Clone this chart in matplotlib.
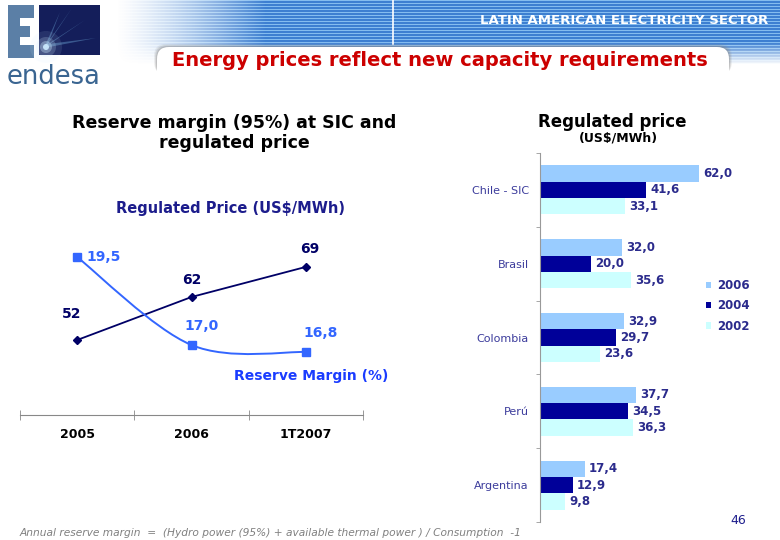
import numpy as np
import matplotlib.pyplot as plt
from matplotlib.path import Path
from matplotlib.patches import PathPatch, Rectangle, FancyBboxPatch, Circle, Polygon

plt.rcParams['font.family'] = 'DejaVu Sans'

# left chart: reserve margin and regulated price at SIC
periods = ['2005', '2006', '1T2007']
price = [52, 62, 69]
reserve = [19.5, 17.0, 16.8]

# right chart: regulated price by country (US$/MWh)
countries = ['Chile - SIC', 'Brasil', 'Colombia', 'Perú', 'Argentina']
price_2006 = [62.0, 32.0, 32.9, 37.7, 17.4]
price_2004 = [41.6, 20.0, 29.7, 34.5, 12.9]
price_2002 = [33.1, 35.6, 23.6, 36.3, 9.8]

NAVY = '#000066'
BLUE = '#3366FF'
LABEL = '#2B2B8C'


def comma(v):
    return f'{v:.1f}'.replace('.', ',')


fig = plt.figure(figsize=(7.8, 5.4), dpi=100)

# ---- background / header in pixel coordinates
bg = fig.add_axes([0, 0, 1, 1], zorder=0)
bg.set_xlim(0, 780)
bg.set_ylim(540, 0)
bg.axis('off')

W, H = 670, 64
img = np.ones((H, W, 4))
rows = np.arange(H)
dark = np.array([0.24, 0.50, 0.82])
light = np.array([0.52, 0.74, 0.94])
for r in range(H):
    img[r, :, :3] = light if r % 3 == 0 else dark
xs_img = np.arange(W)
alpha = np.clip((xs_img - 5) / 150.0, 0, 1) ** 1.3
img[:, :, 3] = alpha[None, :]
img[:, :, 3] *= np.clip((H - rows) / 22.0, 0, 1)[:, None]
bg.imshow(img, extent=(110, 780, H, 0), aspect='auto', zorder=1)
bg.plot([393, 393], [0, 44], color='white', lw=1.2, zorder=2)
# soft shadow on top of the white card
for k, a in enumerate([0.12, 0.2, 0.3]):
    bg.add_patch(FancyBboxPatch((157 - 3 + k, 44 + k), 578 - 2 * k, 30,
                                boxstyle='round,pad=0,rounding_size=12',
                                facecolor='#888888', edgecolor='none', zorder=2, alpha=a))
bg.add_patch(FancyBboxPatch((157, 47), 572, 70, boxstyle='round,pad=0,rounding_size=12',
                            facecolor='white', edgecolor='none', zorder=3))
bg.text(768, 20, 'LATIN AMERICAN ELECTRICITY SECTOR', color='white', fontsize=9.5,
        fontweight='bold', ha='right', va='center', zorder=4)
bg.text(440, 61, 'Energy prices reflect new capacity requirements', color='#CC0000',
        fontsize=14, fontweight='bold', ha='center', va='center', zorder=4)

# logo
E_COL = '#5B7FA6'
for rx, ry, rw, rh in [(8, 5, 12, 53), (8, 5, 26, 13), (8, 26, 22, 11), (8, 45, 26, 13)]:
    bg.add_patch(Rectangle((rx, ry), rw, rh, facecolor=E_COL, edgecolor='none', zorder=2))
bg.add_patch(Rectangle((39, 5), 61, 50, facecolor='#141E5A', edgecolor='none', zorder=2))
for tip in [(60, 12), (85, 20), (96, 38), (72, 8)]:
    bg.add_patch(Polygon([(44, 48), (48, 44), tip], closed=True, facecolor='#7FC3F0',
                         edgecolor='none', alpha=0.35, zorder=3))
for rad, a in [(16, 0.10), (10, 0.2), (6, 0.35), (3, 0.9)]:
    bg.add_patch(Circle((46, 47), rad, facecolor='#CDEBFF', edgecolor='none', alpha=a, zorder=3))
bg.text(7, 77, 'endesa', color='#3A6591', fontsize=18.5, ha='left', va='center', zorder=4)

# footer
bg.text(20, 533, 'Annual reserve margin  =  (Hydro power (95%) + available thermal power ) / Consumption  -1',
        color='#808080', fontsize=7.7, style='italic', ha='left', va='center')
bg.text(738, 521, '46', color='#1C1C8C', fontsize=9, ha='center', va='center')

# ---- left chart
bg.text(234, 133, 'Reserve margin (95%) at SIC and\nregulated price', fontsize=12.5,
        fontweight='bold', ha='center', va='center', linespacing=1.1)
bg.text(230, 208, 'Regulated Price (US$/MWh)', color='#1C1C8C', fontsize=10.5,
        fontweight='bold', ha='center', va='center')

axl = fig.add_axes([20 / 780, 1 - 415 / 540, 343 / 780, 185 / 540], zorder=2)
axl.patch.set_alpha(0)
axr = axl.twinx()
x = np.arange(len(periods)) + 0.5

axl.set_xlim(0, 3)
axl.set_ylim(34.56, 77.58)
axr.set_ylim(15.01, 20.27)

axl.plot(x, price, color=NAVY, lw=1.3, marker='D', ms=4.5, zorder=3)

# smooth line for reserve margin (bezier through the points)
pts = np.column_stack([x, reserve])
ext = np.vstack([pts[0], pts, pts[-1]])
verts = [tuple(pts[0])]
codes = [Path.MOVETO]
for i in range(len(pts) - 1):
    p0, p1, p2, p3 = ext[i], ext[i + 1], ext[i + 2], ext[i + 3]
    c1 = p1 + (p2 - p0) / 6
    c2 = p2 - (p3 - p1) / 6
    verts += [tuple(c1), tuple(c2), tuple(p2)]
    codes += [Path.CURVE4] * 3
axr.add_patch(PathPatch(Path(verts, codes), facecolor='none', edgecolor=BLUE, lw=1.4))
axr.plot(x, reserve, linestyle='none', marker='s', ms=5.5, color=BLUE)

for xi, v, off in zip(x, price, [(-4, 19), (0, 12), (3, 13)]):
    axl.annotate(str(v), (xi, v), xytext=off, textcoords='offset points', ha='center',
                 va='center', color=NAVY, fontsize=10, fontweight='bold')
for xi, v, off, ha in zip(x, reserve, [(7, 0), (7, 14), (11, 14)], ['left', 'center', 'center']):
    axr.annotate(comma(v), (xi, v), xytext=off, textcoords='offset points', ha=ha,
                 va='center', color=BLUE, fontsize=10, fontweight='bold')

axl.text(2.55, 43.7, 'Reserve Margin (%)', color='#1A3CFF', fontsize=10,
         fontweight='bold', ha='center', va='center')

for a in (axl, axr):
    for s in a.spines.values():
        s.set_visible(False)
    a.set_yticks([])
axl.spines['bottom'].set_visible(True)
axl.spines['bottom'].set_color('#888888')
axl.set_xticks(x)
axl.set_xticklabels(periods, fontsize=9, fontweight='bold')
axl.tick_params(axis='x', which='major', length=0, pad=9)
axl.set_xticks([0, 1, 2, 3], minor=True)
axl.tick_params(axis='x', which='minor', length=7, direction='inout', color='#888888')

# ---- right chart
bg.text(612, 122, 'Regulated price', fontsize=12, fontweight='bold', ha='center', va='center')
bg.text(618, 138, '(US$/MWh)', fontsize=9, fontweight='bold', ha='center', va='center')

axb = fig.add_axes([540 / 780, 1 - 522 / 540, 220 / 780, 369 / 540], zorder=2)
axb.patch.set_alpha(0)
y = np.arange(len(countries))
h = 0.222
b6 = axb.barh(y - h, price_2006, height=h, color='#99CCFF', label='2006')
b4 = axb.barh(y, price_2004, height=h, color='#000099', label='2004')
b2 = axb.barh(y + h, price_2002, height=h, color='#CCFFFF', label='2002')
for bars in (b6, b4, b2):
    for r in bars:
        axb.annotate(comma(r.get_width()), (r.get_width(), r.get_y() + r.get_height() / 2),
                     xytext=(3, 0), textcoords='offset points', ha='left', va='center',
                     color=LABEL, fontsize=8.5, fontweight='bold')
axb.set_xlim(0, 86)
axb.set_ylim(len(countries) - 0.5, -0.5)
for s in ['top', 'right', 'bottom']:
    axb.spines[s].set_visible(False)
axb.spines['left'].set_color('#999999')
axb.set_xticks([])
axb.set_yticks(y)
axb.set_yticklabels(countries, color='#3C3C9C', fontsize=8)
axb.tick_params(axis='y', which='major', length=0, pad=8)
axb.set_yticks(np.arange(len(countries) + 1) - 0.5, minor=True)
axb.tick_params(axis='y', which='minor', length=3, color='#999999')

leg = axb.legend(loc='upper left', bbox_to_anchor=(700 / 780, 1 - 273 / 540),
                 bbox_transform=fig.transFigure, frameon=False, handlelength=0.45,
                 handleheight=0.45, handletextpad=0.5, labelspacing=0.62, fontsize=8.5,
                 borderpad=0)
for t in leg.get_texts():
    t.set_color(LABEL)
    t.set_fontweight('bold')

fig.savefig('out.png', dpi=100)
